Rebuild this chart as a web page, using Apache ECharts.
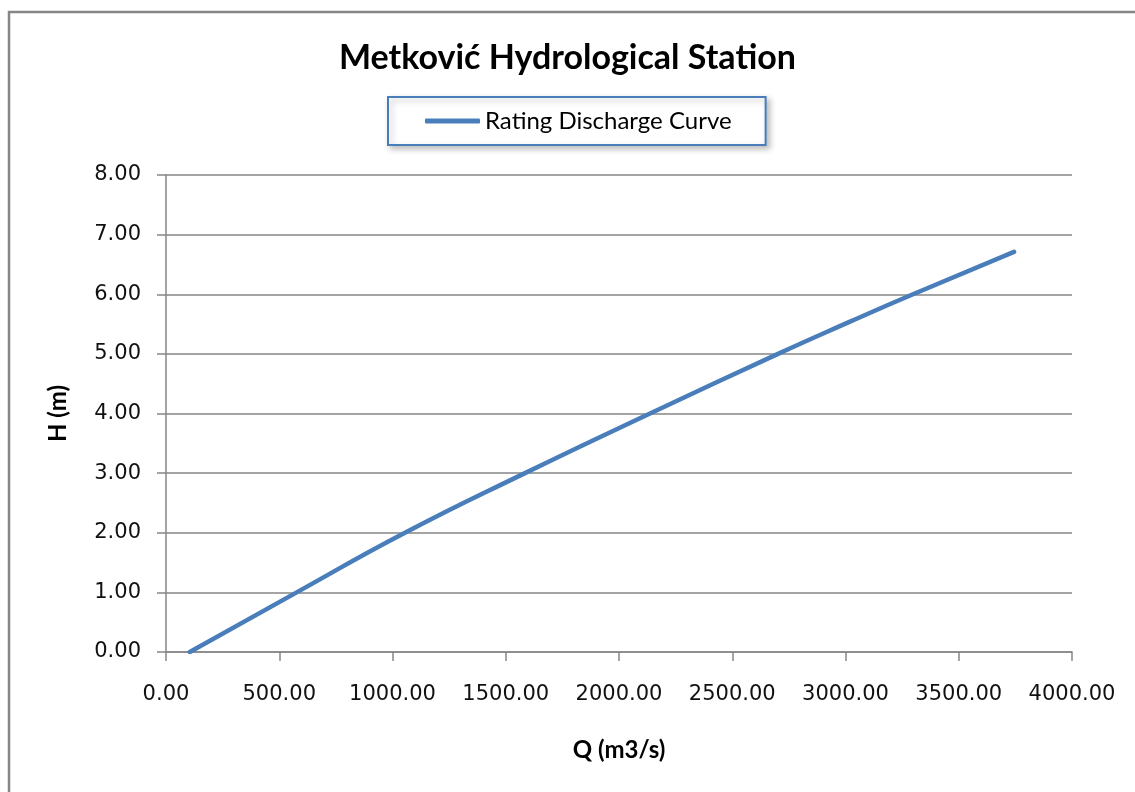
<!DOCTYPE html>
<html>
<head>
<meta charset="utf-8">
<title>Metković Hydrological Station</title>
<script src="https://cdn.jsdelivr.net/npm/echarts@6/dist/echarts.min.js"></script>
<style>
	html, body { margin: 0; padding: 0; background: #fff; }
	#chart { width: 1135px; height: 792px; }
</style>
</head>
<body>
<div id="chart"></div>
<script>
// discharge Q (m3/s) and stage H (m)
var discharge = [105, 577, 1055, 1585, 2137, 2702, 3020, 3298, 3744];
var stage = [0.00, 1.00, 2.00, 3.00, 4.00, 5.00, 5.54, 6.00, 6.71];
var seriesName = 'Rating Discharge Curve';

function createChart() {
	var myChart = echarts.init(document.getElementById('chart'));

	var points = [];
	for (var i = 0; i < discharge.length; i++) {
		points.push([discharge[i], stage[i]]);
	}

	var option = {
		backgroundColor: '#fff',
		animation: false,
		title: {
			text: 'Metković Hydrological Station',
			left: 'center',
			top: 36,
			textStyle: {
				fontFamily: 'Lato',
				fontWeight: 'bold',
				fontSize: 34,
				color: '#000'
			}
		},
		legend: {
			data: [seriesName],
			left: 388,
			top: 97,
			padding: [12, 34, 12, 37],
			borderColor: '#4a7ebb',
			borderWidth: 2,
			backgroundColor: '#fff',
			shadowColor: 'rgba(0,0,0,0.25)',
			shadowBlur: 6,
			shadowOffsetX: 3,
			shadowOffsetY: 3,
			icon: 'roundRect',
			itemWidth: 55,
			itemHeight: 5,
			textStyle: {
				fontFamily: 'Lato',
				fontSize: 24,
				color: '#000'
			}
		},
		// outer chart frame: only the left and top edges are inside the picture
		graphic: [{
			type: 'polyline',
			shape: { points: [[9, 900], [9, 12], [1300, 12]] },
			style: { fill: null, stroke: '#868686', lineWidth: 2.5 },
			silent: true
		}],
		grid: {
			left: 166,
			right: 63,
			top: 175,
			bottom: 140
		},
		xAxis: {
			type: 'value',
			min: 0,
			max: 4000,
			interval: 500,
			name: 'Q (m3/s)',
			nameLocation: 'middle',
			nameGap: 86,
			nameTextStyle: {
				fontFamily: 'Lato',
				fontWeight: 'bold',
				fontSize: 24,
				color: '#000'
			},
			axisLine: { lineStyle: { color: '#868686', width: 1.5 } },
			axisTick: { show: true, length: 9, lineStyle: { color: '#868686', width: 1.5 } },
			splitLine: { show: false },
			axisLabel: {
				margin: 32,
				fontFamily: 'DejaVu Sans',
				fontSize: 21,
				color: '#111',
				formatter: function(v) { return v.toFixed(2); }
			}
		},
		yAxis: {
			type: 'value',
			min: 0,
			max: 8,
			interval: 1,
			name: 'H (m)',
			nameLocation: 'middle',
			nameGap: 96,
			nameRotate: 90,
			nameTextStyle: {
				fontFamily: 'Lato',
				fontWeight: 'bold',
				fontSize: 24,
				color: '#000'
			},
			axisLine: { show: true, lineStyle: { color: '#868686', width: 1.5 } },
			axisTick: { show: true, length: 9, lineStyle: { color: '#868686', width: 1.5 } },
			splitLine: { show: true, lineStyle: { color: '#868686', width: 1.5 } },
			axisLabel: {
				margin: 25,
				fontFamily: 'DejaVu Sans',
				fontSize: 21,
				color: '#111',
				formatter: function(v) { return v.toFixed(2); }
			}
		},
		series: [{
			name: seriesName,
			type: 'line',
			data: points,
			smooth: true,
			showSymbol: false,
			symbol: 'none',
			lineStyle: { color: '#4a7ebb', width: 4.5, cap: 'round' },
			itemStyle: { color: '#4a7ebb' }
		}]
	};

	myChart.setOption(option);
}

createChart();
</script>
</body>
</html>
